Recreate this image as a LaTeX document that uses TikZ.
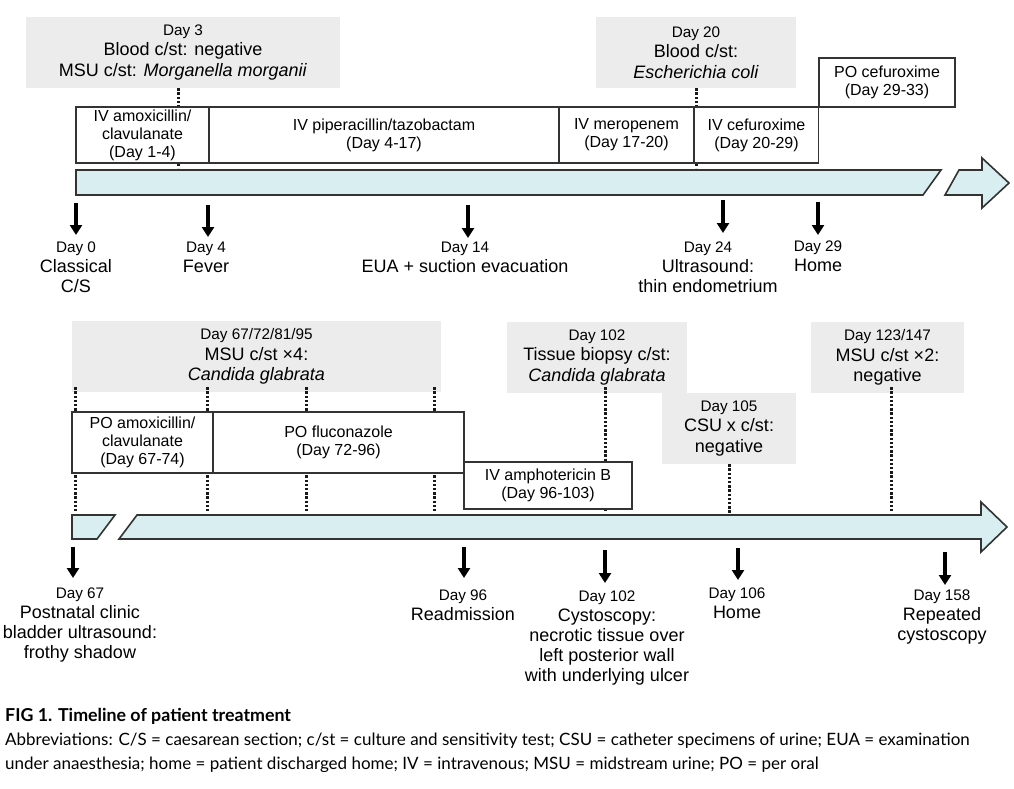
\documentclass[tikz,border=0pt]{standalone}
\usepackage{fontspec}
\setmainfont{Liberation Sans}
\newfontfamily\leyenda{Lato}
\usetikzlibrary{arrows.meta}

\definecolor{gris}{RGB}{236,236,236}
\definecolor{celeste}{RGB}{217,238,240}
\definecolor{borde}{RGB}{51,51,51}

\tikzstyle{cultivo}= [rectangle,fill=gris,inner sep=0pt,align=center,font=\fontsize{18}{20.5}\selectfont]
\tikzstyle{tratamiento}= [rectangle,draw=borde,line width=1.6pt,fill=white,inner sep=0pt,align=center,font=\fontsize{16}{18}\selectfont]
\tikzstyle{evento}= [inner sep=0pt,align=center,anchor=north,font=\fontsize{18}{20}\selectfont]
\tikzstyle{linea}= [draw=borde,line width=1.6pt,fill=celeste]
\tikzstyle{punteado}= [black!90,line width=3pt,dash pattern=on 2.4pt off 1.8pt]
\tikzstyle{flecha}= [black,line width=3.2pt,-{Triangle[length=10pt,width=12pt]}]

\newcommand{\dia}{\fontsize{15.3}{20}\selectfont}

\begin{document}
\begin{tikzpicture}[x=1pt,y=-1pt]
		\useasboundingbox (0,0) rectangle (1014,788);

		% lineas de tiempo
		\draw[linea] (76,170) -- (941,170) -- (923,195) -- (76,195) -- cycle;
		\draw[linea] (945,195) -- (959,170) -- (982,170) -- (982,158) -- (1009,183) -- (982,208) -- (982,195) -- cycle;
		\draw[linea] (72,515) -- (115,515) -- (97,539) -- (72,539) -- cycle;
		\draw[linea] (119,539) -- (137,515) -- (981,515) -- (981,502) -- (1007,527) -- (981,552) -- (981,539) -- cycle;

		% cultivos
		\node (c1) at (183,52.5) [cultivo,minimum width=314pt,minimum height=71pt] {{\dia Day 3}\\Blood c/st: negative\\MSU c/st: \textit{Morganella morganii}};
		\node (c2) at (696,52.5) [cultivo,minimum width=200pt,minimum height=71pt] {{\dia Day 20}\\Blood c/st:\\\textit{Escherichia coli}};
		\node (c3) at (256.5,356.5) [cultivo,minimum width=369pt,minimum height=71pt] {{\dia Day 67/72/81/95}\\MSU c/st ×4:\\\textit{Candida glabrata}};
		\node (c4) at (597,357.5) [cultivo,minimum width=180pt,minimum height=71pt] {{\dia Day 102}\\Tissue biopsy c/st:\\\textit{Candida glabrata}};
		\node (c5) at (729,428.5) [cultivo,minimum width=134pt,minimum height=71pt] {{\dia Day 105}\\CSU x c/st:\\negative};
		\node (c6) at (887.5,357.5) [cultivo,minimum width=153pt,minimum height=71pt] {{\dia Day 123/147}\\MSU c/st ×2:\\negative};

		% punteados
		\coordinate (p1) at (178,168);
		\coordinate (p2) at (696,168);
		\coordinate (p3) at (75,513);
		\coordinate (p4) at (207,513);
		\coordinate (p5) at (306,513);
		\coordinate (p6) at (434,513);
		\coordinate (p7) at (605,512);
		\coordinate (p8) at (729,513);
		\coordinate (p9) at (891,512);
		\path[punteado] (c1.south -| p1) edge (p1);
		\path[punteado] (c2.south -| p2) edge (p2);
		\path[punteado] ([yshift=5pt]c3.south -| p3) edge (p3);
		\path[punteado] ([yshift=5pt]c3.south -| p4) edge (p4);
		\path[punteado] ([yshift=5pt]c3.south -| p5) edge (p5);
		\path[punteado] ([yshift=5pt]c3.south -| p6) edge (p6);
		\path[punteado] ([yshift=6pt]c4.south -| p7) edge (p7);
		\path[punteado] (c5.south -| p8) edge (p8);
		\path[punteado] ([yshift=6pt]c6.south -| p9) edge (p9);

		% tratamientos
		\node (t1) at (142.5,135) [tratamiento,minimum width=133pt,minimum height=56pt] {IV amoxicillin/\\clavulanate\\(Day 1-4)};
		\node (t2) at (384,135) [tratamiento,minimum width=350pt,minimum height=56pt] {IV piperacillin/tazobactam\\(Day 4-17)};
		\node (t3) at (626.5,135) [tratamiento,minimum width=135pt,minimum height=56pt] {IV meropenem\\(Day 17-20)};
		\node (t4) at (756.5,135) [tratamiento,minimum width=124pt,minimum height=56pt] {IV cefuroxime\\(Day 20-29)};
		\node (t5) at (887,82.5) [tratamiento,minimum width=136pt,minimum height=49pt] {PO cefuroxime\\(Day 29-33)};

		\node (t6) at (142.5,442.5) [tratamiento,minimum width=141pt,minimum height=61pt] {PO amoxicillin/\\clavulanate\\(Day 67-74)};
		\node (t7) at (338.5,442.5) [tratamiento,minimum width=251pt,minimum height=61pt] {PO fluconazole\\(Day 72-96)};
		\node (t8) at (548,485.5) [tratamiento,minimum width=168pt,minimum height=47pt] {IV amphotericin B\\(Day 96-103)};

		% eventos
		\node (e1) at (76,241.5) [evento] {{\dia Day 0}\\Classical\\C/S};
		\node (e2) at (206,241.5) [evento] {{\dia Day 4}\\Fever};
		\node (e3) at (465,241.5) [evento] {{\dia Day 14}\\EUA + suction evacuation};
		\node (e4) at (708,241.5) [evento] {{\dia Day 24}\\Ultrasound:\\thin endometrium};
		\node (e5) at (818,240.5) [evento] {{\dia Day 29}\\Home};

		\node (e6) at (80,587.5) [evento] {{\dia Day 67}\\Postnatal clinic\\bladder ultrasound:\\frothy shadow};
		\node (e7) at (463,589.5) [evento] {{\dia Day 96}\\Readmission};
		\node (e8) at (607,590.5) [evento] {{\dia Day 102}\\Cystoscopy:\\necrotic tissue over\\left posterior wall\\with underlying ulcer};
		\node (e9) at (737,587.5) [evento] {{\dia Day 106}\\Home};
		\node (e10) at (942,589.5) [evento] {{\dia Day 158}\\Repeated\\cystoscopy};

		\coordinate (f1) at (76,203);   \coordinate (g1) at (76,235);
		\coordinate (f2) at (208,205);  \coordinate (g2) at (208,237);
		\coordinate (f3) at (468,205);  \coordinate (g3) at (468,238);
		\coordinate (f4) at (723,200);  \coordinate (g4) at (723,233);
		\coordinate (f5) at (818,202);  \coordinate (g5) at (818,235);
		\coordinate (f6) at (73,547);   \coordinate (g6) at (73,578);
		\coordinate (f7) at (464,547);  \coordinate (g7) at (464,578);
		\coordinate (f8) at (605,550);  \coordinate (g8) at (605,583);
		\coordinate (f9) at (738,548);  \coordinate (g9) at (738,580);
		\coordinate (f10) at (945,552); \coordinate (g10) at (945,585);

		\path[flecha] (f1) edge (g1);
		\path[flecha] (f2) edge (g2);
		\path[flecha] (f3) edge (g3);
		\path[flecha] (f4) edge (g4);
		\path[flecha] (f5) edge (g5);
		\path[flecha] (f6) edge (g6);
		\path[flecha] (f7) edge (g7);
		\path[flecha] (f8) edge (g8);
		\path[flecha] (f9) edge (g9);
		\path[flecha] (f10) edge (g10);

		% pie de figura
		\node (pie) at (5,708) [anchor=north west,inner sep=0pt,align=left,font=\leyenda\fontsize{17}{24}\selectfont] {{\fontsize{17.8}{24}\selectfont\textbf{FIG 1. Timeline of patient treatment}}\\Abbreviations: C/S = caesarean section; c/st = culture and sensitivity test; CSU = catheter specimens of urine; EUA = examination\\under anaesthesia; home = patient discharged home; IV = intravenous; MSU = midstream urine; PO = per oral};

	\end{tikzpicture}
\end{document}
